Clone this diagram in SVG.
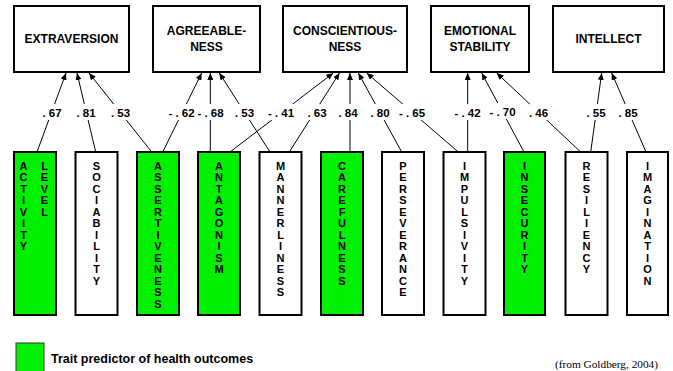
<svg xmlns="http://www.w3.org/2000/svg" width="673" height="371" viewBox="0 0 673 371">
<style>
.top{fill:#fff;stroke:#000;stroke-width:2}
.trait{fill:#fff;stroke:#000;stroke-width:2}
.g{fill:#00f000}
.tt{font-family:"Liberation Sans",Arial,sans-serif;font-weight:bold;font-size:12px;text-anchor:middle;fill:#000}
.vt{font-family:"Liberation Sans",Arial,sans-serif;font-weight:bold;font-size:11px;text-anchor:middle;fill:#000}
.lb{font-family:"Liberation Sans",Arial,sans-serif;font-weight:bold;font-size:11.5px;text-anchor:middle;fill:#000}
.conn line{stroke:#000;stroke-width:1;marker-end:url(#ah)}
.bg{fill:#fff}
</style>
<defs>
<marker id="ah" markerUnits="userSpaceOnUse" markerWidth="8" markerHeight="6" refX="7" refY="3" orient="auto">
<path d="M0,0 L7,3 L0,6 z" fill="#000"/>
</marker>
</defs>
<rect width="673" height="371" fill="#fff"/>

<g id="connectors" class="conn">
<line x1="37" y1="152" x2="66" y2="73"/>
<line x1="95.7" y1="152" x2="77" y2="73"/>
<line x1="151.7" y1="152" x2="89" y2="73"/>
<line x1="162.7" y1="152" x2="201.7" y2="73"/>
<line x1="210.3" y1="152" x2="210.3" y2="73"/>
<line x1="270" y1="152" x2="219.3" y2="73"/>
<line x1="230" y1="152" x2="333.3" y2="73"/>
<line x1="289.3" y1="152" x2="339.5" y2="73"/>
<line x1="350" y1="152" x2="350" y2="73"/>
<line x1="401.7" y1="152" x2="358.3" y2="73"/>
<line x1="458.3" y1="152" x2="366.7" y2="73"/>
<line x1="467.7" y1="152" x2="467.7" y2="73"/>
<line x1="524" y1="152" x2="481.7" y2="73"/>
<line x1="580.7" y1="152" x2="496.7" y2="73"/>
<line x1="590.7" y1="152" x2="601.7" y2="73"/>
<line x1="646" y1="152" x2="611.7" y2="73"/>
</g>

<g id="labels">
<rect class="bg" x="43" y="104" width="18" height="16"/><text class="lb" x="52" y="116.5">. 67</text>
<rect class="bg" x="77" y="104" width="18" height="16"/><text class="lb" x="86" y="116.5">. 81</text>
<rect class="bg" x="111.5" y="104" width="18" height="16"/><text class="lb" x="120.5" y="116.5">. 53</text>
<rect class="bg" x="169" y="104" width="25" height="16"/><text class="lb" x="181.5" y="116.5">- . 62</text>
<rect class="bg" x="198" y="104" width="25" height="16"/><text class="lb" x="210.5" y="116.5">- . 68</text>
<rect class="bg" x="235.5" y="104" width="18" height="16"/><text class="lb" x="244.5" y="116.5">. 53</text>
<rect class="bg" x="268.5" y="104" width="25" height="16"/><text class="lb" x="281" y="116.5">- . 41</text>
<rect class="bg" x="308" y="104" width="18" height="16"/><text class="lb" x="317" y="116.5">. 63</text>
<rect class="bg" x="339" y="104" width="18" height="16"/><text class="lb" x="348" y="116.5">. 84</text>
<rect class="bg" x="371" y="104" width="18" height="16"/><text class="lb" x="380" y="116.5">. 80</text>
<rect class="bg" x="399.5" y="104" width="25" height="16"/><text class="lb" x="412" y="116.5">- . 65</text>
<rect class="bg" x="455" y="104" width="25" height="16"/><text class="lb" x="467.5" y="116.5">- . 42</text>
<rect class="bg" x="490" y="103" width="25" height="16"/><text class="lb" x="502.5" y="115.5">- . 70</text>
<rect class="bg" x="529.5" y="104" width="18" height="16"/><text class="lb" x="538.5" y="116.5">. 46</text>
<rect class="bg" x="587" y="104" width="18" height="16"/><text class="lb" x="596" y="116.5">. 55</text>
<rect class="bg" x="619" y="104" width="18" height="16"/><text class="lb" x="628" y="116.5">. 85</text>
</g>

<g id="extraversion"><rect class="top" x="14" y="6" width="115" height="66"/><text class="tt" x="71.5" y="43">EXTRAVERSION</text></g>
<g id="agreeableness"><rect class="top" x="153" y="6" width="107" height="66"/><text class="tt" x="206.5" y="35">AGREEABLE-</text><text class="tt" x="206.5" y="51">NESS</text></g>
<g id="conscientiousness"><rect class="top" x="283" y="6" width="124" height="66"/><text class="tt" x="345" y="35">CONSCIENTIOUS-</text><text class="tt" x="345" y="51">NESS</text></g>
<g id="emotional-stability"><rect class="top" x="431" y="6" width="98" height="66"/><text class="tt" x="480" y="35">EMOTIONAL</text><text class="tt" x="480" y="51">STABILITY</text></g>
<g id="intellect"><rect class="top" x="553" y="6" width="111" height="66"/><text class="tt" x="608.5" y="43">INTELLECT</text></g>

<g id="activity-level"><rect class="trait g" x="14" y="152" width="42" height="163"/>
<text class="vt" y="169.6"><tspan x="23.5">A</tspan><tspan x="23.5" dy="11.5">C</tspan><tspan x="23.5" dy="11.5">T</tspan><tspan x="23.5" dy="11.5">I</tspan><tspan x="23.5" dy="11.5">V</tspan><tspan x="23.5" dy="11.5">I</tspan><tspan x="23.5" dy="11.5">T</tspan><tspan x="23.5" dy="11.5">Y</tspan></text>
<text class="vt" y="169.6"><tspan x="44.5">L</tspan><tspan x="44.5" dy="11.5">E</tspan><tspan x="44.5" dy="11.5">V</tspan><tspan x="44.5" dy="11.5">E</tspan><tspan x="44.5" dy="11.5">L</tspan></text></g>
<g id="sociability"><rect class="trait" x="75.5" y="152" width="42" height="163"/>
<text class="vt" y="169.6"><tspan x="96.5">S</tspan><tspan x="96.5" dy="11.5">O</tspan><tspan x="96.5" dy="11.5">C</tspan><tspan x="96.5" dy="11.5">I</tspan><tspan x="96.5" dy="11.5">A</tspan><tspan x="96.5" dy="11.5">B</tspan><tspan x="96.5" dy="11.5">I</tspan><tspan x="96.5" dy="11.5">L</tspan><tspan x="96.5" dy="11.5">I</tspan><tspan x="96.5" dy="11.5">T</tspan><tspan x="96.5" dy="11.5">Y</tspan></text></g>
<g id="assertiveness"><rect class="trait g" x="137" y="152" width="42" height="163"/>
<text class="vt" y="169.6"><tspan x="158">A</tspan><tspan x="158" dy="11.5">S</tspan><tspan x="158" dy="11.5">S</tspan><tspan x="158" dy="11.5">E</tspan><tspan x="158" dy="11.5">R</tspan><tspan x="158" dy="11.5">T</tspan><tspan x="158" dy="11.5">I</tspan><tspan x="158" dy="11.5">V</tspan><tspan x="158" dy="11.5">E</tspan><tspan x="158" dy="11.5">N</tspan><tspan x="158" dy="11.5">E</tspan><tspan x="158" dy="11.5">S</tspan><tspan x="158" dy="11.5">S</tspan></text></g>
<g id="antagonism"><rect class="trait g" x="198" y="152" width="42" height="163"/>
<text class="vt" y="169.6"><tspan x="219">A</tspan><tspan x="219" dy="11.5">N</tspan><tspan x="219" dy="11.5">T</tspan><tspan x="219" dy="11.5">A</tspan><tspan x="219" dy="11.5">G</tspan><tspan x="219" dy="11.5">O</tspan><tspan x="219" dy="11.5">N</tspan><tspan x="219" dy="11.5">I</tspan><tspan x="219" dy="11.5">S</tspan><tspan x="219" dy="11.5">M</tspan></text></g>
<g id="mannerliness"><rect class="trait" x="259.5" y="152" width="42" height="163"/>
<text class="vt" y="169.6"><tspan x="280.5">M</tspan><tspan x="280.5" dy="11.5">A</tspan><tspan x="280.5" dy="11.5">N</tspan><tspan x="280.5" dy="11.5">N</tspan><tspan x="280.5" dy="11.5">E</tspan><tspan x="280.5" dy="11.5">R</tspan><tspan x="280.5" dy="11.5">L</tspan><tspan x="280.5" dy="11.5">I</tspan><tspan x="280.5" dy="11.5">N</tspan><tspan x="280.5" dy="11.5">E</tspan><tspan x="280.5" dy="11.5">S</tspan><tspan x="280.5" dy="11.5">S</tspan></text></g>
<g id="carefulness"><rect class="trait g" x="321" y="152" width="42" height="163"/>
<text class="vt" y="169.6"><tspan x="342">C</tspan><tspan x="342" dy="11.5">A</tspan><tspan x="342" dy="11.5">R</tspan><tspan x="342" dy="11.5">E</tspan><tspan x="342" dy="11.5">F</tspan><tspan x="342" dy="11.5">U</tspan><tspan x="342" dy="11.5">L</tspan><tspan x="342" dy="11.5">N</tspan><tspan x="342" dy="11.5">E</tspan><tspan x="342" dy="11.5">S</tspan><tspan x="342" dy="11.5">S</tspan></text></g>
<g id="perseverance"><rect class="trait" x="382" y="152" width="42" height="163"/>
<text class="vt" y="169.6"><tspan x="403">P</tspan><tspan x="403" dy="11.5">E</tspan><tspan x="403" dy="11.5">R</tspan><tspan x="403" dy="11.5">S</tspan><tspan x="403" dy="11.5">E</tspan><tspan x="403" dy="11.5">V</tspan><tspan x="403" dy="11.5">E</tspan><tspan x="403" dy="11.5">R</tspan><tspan x="403" dy="11.5">A</tspan><tspan x="403" dy="11.5">N</tspan><tspan x="403" dy="11.5">C</tspan><tspan x="403" dy="11.5">E</tspan></text></g>
<g id="impulsivity"><rect class="trait" x="443.5" y="152" width="42" height="163"/>
<text class="vt" y="169.6"><tspan x="464.5">I</tspan><tspan x="464.5" dy="11.5">M</tspan><tspan x="464.5" dy="11.5">P</tspan><tspan x="464.5" dy="11.5">U</tspan><tspan x="464.5" dy="11.5">L</tspan><tspan x="464.5" dy="11.5">S</tspan><tspan x="464.5" dy="11.5">I</tspan><tspan x="464.5" dy="11.5">V</tspan><tspan x="464.5" dy="11.5">I</tspan><tspan x="464.5" dy="11.5">T</tspan><tspan x="464.5" dy="11.5">Y</tspan></text></g>
<g id="insecurity"><rect class="trait g" x="504" y="152" width="41" height="163"/>
<text class="vt" y="169.6"><tspan x="524.5">I</tspan><tspan x="524.5" dy="11.5">N</tspan><tspan x="524.5" dy="11.5">S</tspan><tspan x="524.5" dy="11.5">E</tspan><tspan x="524.5" dy="11.5">C</tspan><tspan x="524.5" dy="11.5">U</tspan><tspan x="524.5" dy="11.5">R</tspan><tspan x="524.5" dy="11.5">I</tspan><tspan x="524.5" dy="11.5">T</tspan><tspan x="524.5" dy="11.5">Y</tspan></text></g>
<g id="resiliency"><rect class="trait" x="565.5" y="152" width="42" height="163"/>
<text class="vt" y="169.6"><tspan x="586.5">R</tspan><tspan x="586.5" dy="11.5">E</tspan><tspan x="586.5" dy="11.5">S</tspan><tspan x="586.5" dy="11.5">I</tspan><tspan x="586.5" dy="11.5">L</tspan><tspan x="586.5" dy="11.5">I</tspan><tspan x="586.5" dy="11.5">E</tspan><tspan x="586.5" dy="11.5">N</tspan><tspan x="586.5" dy="11.5">C</tspan><tspan x="586.5" dy="11.5">Y</tspan></text></g>
<g id="imagination"><rect class="trait" x="627" y="152" width="41" height="163"/>
<text class="vt" y="169.6"><tspan x="647.5">I</tspan><tspan x="647.5" dy="11.5">M</tspan><tspan x="647.5" dy="11.5">A</tspan><tspan x="647.5" dy="11.5">G</tspan><tspan x="647.5" dy="11.5">I</tspan><tspan x="647.5" dy="11.5">N</tspan><tspan x="647.5" dy="11.5">A</tspan><tspan x="647.5" dy="11.5">T</tspan><tspan x="647.5" dy="11.5">I</tspan><tspan x="647.5" dy="11.5">O</tspan><tspan x="647.5" dy="11.5">N</tspan></text></g>

<g id="legend"><rect x="16" y="343" width="28" height="30" fill="#00f000" stroke="#333" stroke-width="1"/>
<text x="51" y="363" font-family="'Liberation Sans',Arial,sans-serif" font-weight="bold" font-size="12.5" fill="#000">Trait predictor of health outcomes</text></g>
<text x="555" y="368" font-family="'Liberation Serif','Times New Roman',serif" font-size="11.3" fill="#000">(from Goldberg, 2004)</text>
</svg>
